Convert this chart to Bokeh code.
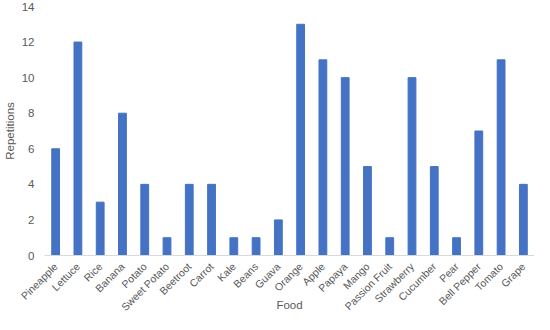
import math
from bokeh.plotting import figure
from bokeh.models import Range1d, FixedTicker
from bokeh.embed import file_html
from bokeh.resources import INLINE

foods = ["Pineapple", "Lettuce", "Rice", "Banana", "Potato", "Sweet Potato", "Beetroot",
         "Carrot", "Kale", "Beans", "Guava", "Orange", "Apple", "Papaya", "Mango",
         "Passion Fruit", "Strawberry", "Cucumber", "Pear", "Bell Pepper", "Tomato", "Grape"]
repetitions = [6, 12, 3, 8, 4, 1, 4, 4, 1, 1, 2, 13, 11, 10, 5, 1, 10, 5, 1, 7, 11, 4]
y_ticks = [0, 2, 4, 6, 8, 10, 12, 14]

font = "Liberation Sans"
grey = "#595959"

p = figure(x_range=foods, y_range=Range1d(0, 14), width=534, height=314,
           output_backend="svg", toolbar_location=None,
           min_border_left=0, min_border_right=0, min_border_top=6, min_border_bottom=0)
p.vbar(x=foods, top=repetitions, width=0.35, color="#4472C4")

p.xgrid.grid_line_color = None
p.ygrid.grid_line_color = None
p.outline_line_color = None
p.background_fill_color = "white"

p.yaxis.ticker = FixedTicker(ticks=y_ticks)
p.yaxis.axis_line_color = None
p.yaxis.major_tick_line_color = None
p.yaxis.minor_tick_line_color = None
p.yaxis.axis_label = "Repetitions"
p.xaxis.axis_label = "Food"
p.xaxis.axis_line_color = "#D9D9D9"
p.xaxis.major_tick_line_color = None
p.xaxis.minor_tick_line_color = None
p.xaxis.major_label_orientation = math.pi / 4

for ax in (p.xaxis, p.yaxis):
    ax.major_label_text_font = font
    ax.major_label_text_color = grey
    ax.major_label_text_font_size = "11.5px"
    ax.axis_label_text_font = font
    ax.axis_label_text_font_size = "11.5px"
    ax.axis_label_text_color = grey
    ax.axis_label_text_font_style = "normal"
p.xaxis.major_label_text_font_size = "10.5px"
p.x_range.range_padding = 0
p.xaxis.major_label_standoff = 3
p.xaxis.axis_label_standoff = -21
p.yaxis.major_label_standoff = 4
p.yaxis.axis_label_standoff = 3

open("out.html", "w").write(file_html(p, INLINE))
